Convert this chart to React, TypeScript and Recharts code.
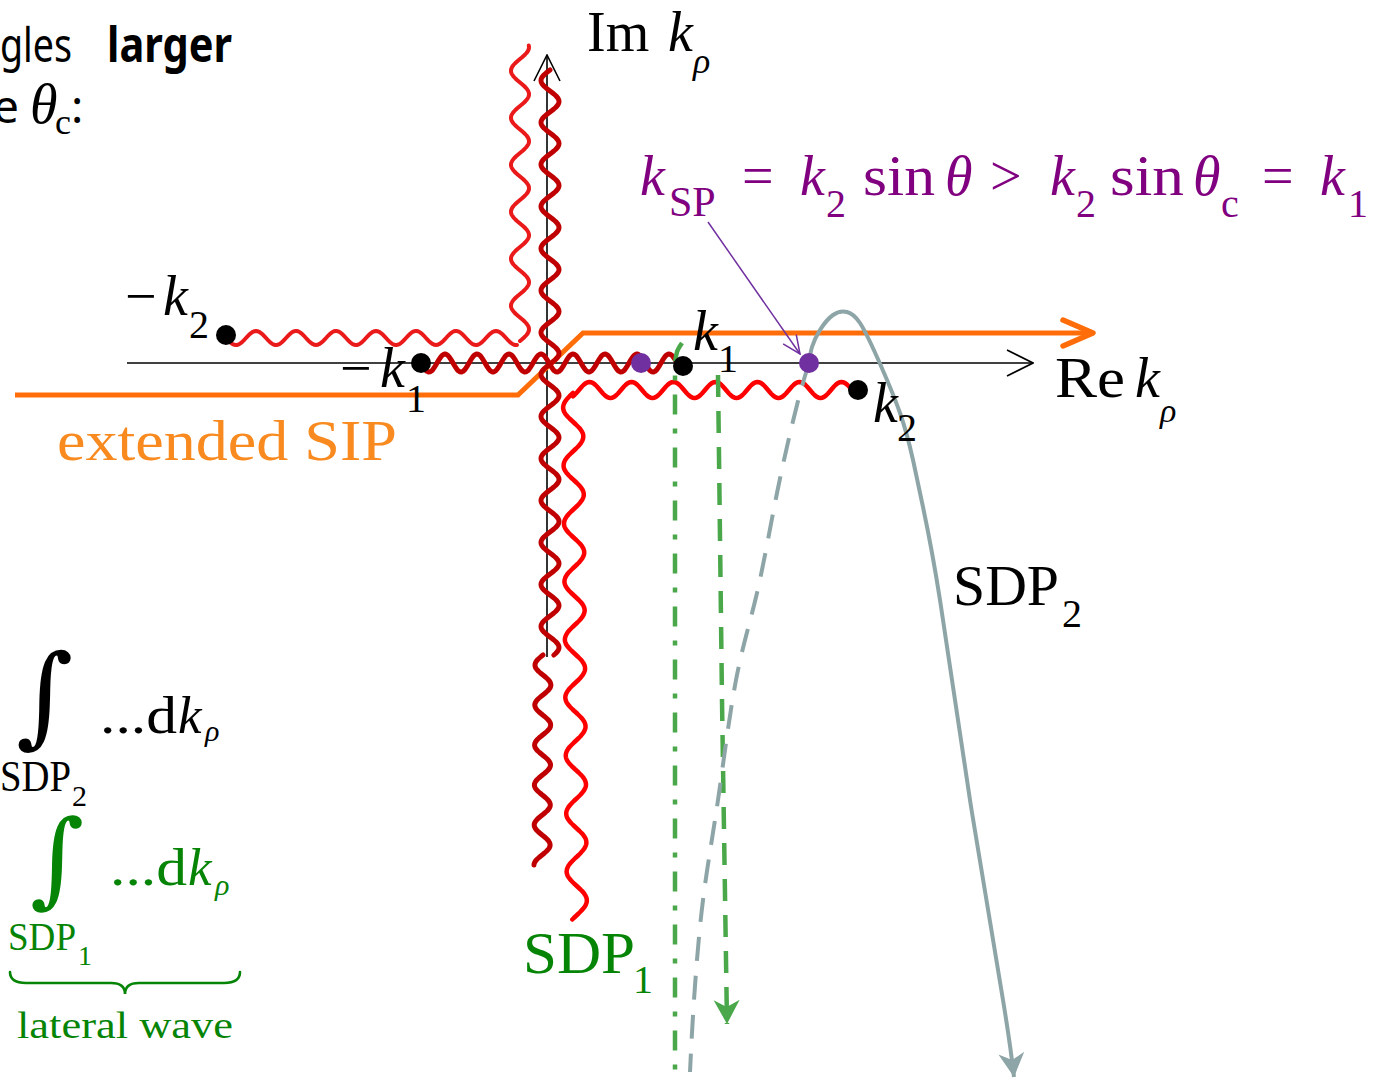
import React from "react";
import {
  ComposedChart,
  Line,
  Scatter,
  XAxis,
  YAxis,
  ReferenceLine,
  ReferenceDot,
} from "recharts";

// complex k_rho plane, 1 unit = 100 px of the picture, origin at the axes crossing
const X_DOMAIN = [-5.47, 8.34];
const Y_DOMAIN = [-7.18, 3.63];

// branch points -k2, -k1, k1, k2
const branchPoints = [
  { x: -3.21, y: 0.28 },
  { x: -1.26, y: 0 },
  { x: 1.36, y: -0.03 },
  { x: 3.11, y: -0.27 },
];
// saddle points on the real axis
const saddlePoints = [
  { x: 0.94, y: 0 },
  { x: 2.62, y: 0 },
];

const reAxis = [
  { x: -4.2, y: 0 },
  { x: 4.86, y: 0 },
];
const imAxis = [
  { x: 0, y: -2.94 },
  { x: 0, y: 3.08 },
];

// extended sommerfeld integration path
const sipPath = [
  { x: -5.32, y: -0.32 },
  { x: -0.29, y: -0.32 },
  { x: 0.36, y: 0.3 },
  { x: 5.46, y: 0.3 },
];

const sdp2Solid = [
  { x: 2.62, y: 0 },
  { x: 2.65, y: 0.16 },
  { x: 2.73, y: 0.33 },
  { x: 2.86, y: 0.48 },
  { x: 3.0, y: 0.51 },
  { x: 3.13, y: 0.4 },
  { x: 3.3, y: 0.06 },
  { x: 3.53, y: -0.5 },
  { x: 3.66, y: -0.97 },
  { x: 3.76, y: -1.44 },
  { x: 3.93, y: -2.37 },
  { x: 4.23, y: -4.37 },
  { x: 4.56, y: -6.37 },
  { x: 4.67, y: -7.14 },
];
const sdp2Dashed = [
  { x: 2.62, y: 0 },
  { x: 2.5, y: -0.42 },
  { x: 2.3, y: -1.3 },
  { x: 2.1, y: -2.3 },
  { x: 1.89, y: -3.17 },
  { x: 1.71, y: -4.37 },
  { x: 1.56, y: -5.37 },
  { x: 1.47, y: -6.37 },
  { x: 1.43, y: -7.09 },
];

const sdp1Left = [
  { x: 1.35, y: 0.2 },
  { x: 1.3, y: 0.11 },
  { x: 1.28, y: -0.03 },
  { x: 1.28, y: -7.18 },
];
const sdp1Right = [
  { x: 1.71, y: -0.12 },
  { x: 1.75, y: -3.37 },
  { x: 1.8, y: -6.61 },
];

const spPointer = [
  { x: 1.61, y: 1.41 },
  { x: 2.53, y: 0.09 },
];

// branch cuts (drawn wavy)
const cutsLight = [
  { x1: -3.21, y1: 0.25, x2: -0.29, y2: 0.25 },
  { x1: -0.27, y1: 0.22, x2: -0.27, y2: 3.18 },
];
const cutsDark = [
  { x1: -1.26, y1: 0, x2: 1.3, y2: 0 },
  { x1: 0.03, y1: 2.93, x2: 0.03, y2: -2.92 },
  { x1: -0.04, y1: -2.92, x2: -0.05, y2: -5.02 },
];
const cutsBright = [
  { x1: 3.05, y1: -0.27, x2: 0.25, y2: -0.27 },
  { x1: 0.26, y1: -0.3, x2: 0.3, y2: -5.57 },
];

const SERIF = "'Liberation Serif', 'Times New Roman', serif";
const SANS = "'Noto Sans', 'Open Sans', sans-serif";
const PURPLE = "#800080";
const GREEN_TXT = "#068406";
const GREEN = "#4aa84a";
const GRAY = "#8ea5a7";
const ORANGE = "#ff6d0a";

function wavePath(x1: number, y1: number, x2: number, y2: number, len: number, amp: number) {
  const dx = x2 - x1
  const dy = y2 - y1
  const L = Math.hypot(dx, dy)
  const ux = dx / L, uy = dy / L
  const nx = -uy, ny = ux
  let d = ""
  for (let t = 0; t <= L; t += 1.5) {
    const s = amp * Math.sin((2 * Math.PI * t) / len)
    const px = x1 + ux * t + nx * s
    const py = y1 + uy * t + ny * s
    d += (t === 0 ? "M" : "L") + px.toFixed(1) + "," + py.toFixed(1)
  }
  return d
}

const wave = (color: string, width: number, len: number, amp: number) => (p: any) => (
  <path
    d={wavePath(+p.x1, +p.y1, +p.x2, +p.y2, len, amp)}
    fill="none"
    stroke={color}
    strokeWidth={width}
    strokeLinecap="round"
    strokeLinejoin="round"
  />
)

type Part = {
  t: string
  dx: number
  dy?: number
  size?: number
  italic?: boolean
  bold?: boolean
  font?: string
  len?: number
}

const textShape = (parts: Part[], color: string) => (p: any) => (
  <text fill={color}>
    {parts.map((q, i) => (
      <tspan
        key={i}
        x={p.cx + q.dx}
        y={p.cy + (q.dy ?? 0)}
        fontSize={q.size ?? 56}
        fontStyle={q.italic ? "italic" : "normal"}
        fontWeight={q.bold ? 700 : 400}
        fontFamily={q.font ?? SERIF}
        textLength={q.len}
        lengthAdjust={q.len ? "spacingAndGlyphs" : undefined}
      >
        {q.t}
      </tspan>
    ))}
  </text>
)

const brace = (color: string) => (p: any) => {
  const x1 = +p.x1, x2 = +p.x2, y = +p.y1
  const m = (x1 + x2) / 2
  const d = `M${x1},${y - 11} Q${x1},${y} ${x1 + 16},${y} L${m - 14},${y} Q${m},${y} ${m},${y + 11} Q${m},${y} ${m + 14},${y} L${x2 - 16},${y} Q${x2},${y} ${x2},${y - 11}`
  return <path d={d} fill="none" stroke={color} strokeWidth={2.6} strokeLinecap="round" />
}

const dot = (color: string) => (p: any) => <circle cx={p.cx} cy={p.cy} r={10} fill={color} />

export default function App() {
  const lineCommon = { dataKey: "y", dot: false, activeDot: false, isAnimationActive: false, legendType: "none" as const }
  return (
    <div style={{ position: "absolute", left: 0, top: 0, width: 1381, height: 1081, background: "#fff", overflow: "hidden" }}>
      <ComposedChart width={1381} height={1081} margin={{ top: 0, right: 0, bottom: 0, left: 0 }}>
        <defs>
          <marker id="arrAxis" markerUnits="userSpaceOnUse" viewBox="0 0 28 30" refX="27" refY="15" markerWidth="28" markerHeight="30" orient="auto">
            <path d="M1,2 L27,15 L1,28" fill="none" stroke="#000" strokeWidth="1.6" />
          </marker>
          <marker id="arrOrange" markerUnits="userSpaceOnUse" viewBox="0 0 38 34" refX="34" refY="17" markerWidth="38" markerHeight="34" orient="auto">
            <path d="M4,4 L34,17 L4,30" fill="none" stroke={ORANGE} strokeWidth="5.5" strokeLinecap="round" strokeLinejoin="round" />
          </marker>
          <marker id="arrGray" markerUnits="userSpaceOnUse" viewBox="0 0 26 28" refX="24" refY="14" markerWidth="26" markerHeight="28" orient="auto">
            <path d="M0,1 L24,14 L0,27 L7,14 Z" fill={GRAY} />
          </marker>
          <marker id="arrGreen" markerUnits="userSpaceOnUse" viewBox="0 0 26 28" refX="24" refY="14" markerWidth="26" markerHeight="28" orient="auto">
            <path d="M0,1 L24,14 L0,27 L7,14 Z" fill={GREEN} />
          </marker>
          <marker id="arrPurple" markerUnits="userSpaceOnUse" viewBox="0 0 20 18" refX="19" refY="9" markerWidth="20" markerHeight="18" orient="auto">
            <path d="M1,1 L19,9 L1,17" fill="none" stroke="#7030a0" strokeWidth="1.5" />
          </marker>
        </defs>
        <XAxis type="number" dataKey="x" domain={X_DOMAIN} allowDataOverflow hide />
        <YAxis type="number" dataKey="y" domain={Y_DOMAIN} allowDataOverflow hide />

        <Line {...lineCommon} data={reAxis} type="linear" stroke="#000" strokeWidth={1.6} markerEnd="url(#arrAxis)" />
        <Line {...lineCommon} data={imAxis} type="linear" stroke="#000" strokeWidth={1.6} markerEnd="url(#arrAxis)" />
        <Line {...lineCommon} data={sipPath} type="linear" stroke={ORANGE} strokeWidth={5} markerEnd="url(#arrOrange)" />

        {cutsLight.map((c, i) => (
          <ReferenceLine key={"l" + i} segment={[{ x: c.x1, y: c.y1 }, { x: c.x2, y: c.y2 }]} ifOverflow="visible"
            shape={wave("#ea1a1a", 4, i === 0 ? 40 : 47, i === 0 ? 7 : 9)} />
        ))}
        {cutsDark.map((c, i) => (
          <ReferenceLine key={"d" + i} segment={[{ x: c.x1, y: c.y1 }, { x: c.x2, y: c.y2 }]} ifOverflow="visible"
            shape={wave("#c00000", 5, i === 0 ? 32 : i === 1 ? 42 : 40, i === 2 ? 8 : 9)} />
        ))}
        {cutsBright.map((c, i) => (
          <ReferenceLine key={"b" + i} segment={[{ x: c.x1, y: c.y1 }, { x: c.x2, y: c.y2 }]} ifOverflow="visible"
            shape={wave("#ff0000", 4.5, i === 0 ? 42 : 58, i === 0 ? 8 : 10)} />
        ))}

        <Line {...lineCommon} data={sdp1Left} type="monotoneY" stroke={GREEN} strokeWidth={4.5} strokeDasharray="20 14 5 14" />
        <Line {...lineCommon} data={sdp1Right} type="linear" stroke={GREEN} strokeWidth={4.5} strokeDasharray="22 14" markerEnd="url(#arrGreen)" />
        <Line {...lineCommon} data={sdp2Dashed} type="natural" stroke={GRAY} strokeWidth={4} strokeDasharray="24 15" />
        <Line {...lineCommon} data={sdp2Solid} type="natural" stroke={GRAY} strokeWidth={4} markerEnd="url(#arrGray)" />
        <Line {...lineCommon} data={spPointer} type="linear" stroke="#7030a0" strokeWidth={1.5} markerEnd="url(#arrPurple)" />

        <Scatter data={branchPoints} isAnimationActive={false} shape={dot("#000")} legendType="none" />
        <Scatter data={saddlePoints} isAnimationActive={false} shape={dot("#7030a0")} legendType="none" />

        <ReferenceLine segment={[{ x: -5.37, y: -6.2 }, { x: -3.07, y: -6.2 }]} ifOverflow="visible" shape={brace(GREEN_TXT)} />

        <ReferenceDot x={-5.47} y={3.01} ifOverflow="visible" shape={textShape([
          { t: "gles", dx: 0, size: 48, font: SANS, len: 72 },
          { t: "larger", dx: 107, size: 48, font: SANS, bold: true, len: 125 },
        ], "#000")} />
        <ReferenceDot x={-5.47} y={2.4} ifOverflow="visible" shape={textShape([
          { t: "e", dx: -7, size: 46, font: SANS },
          { t: "θ", dx: 30, size: 56, italic: true },
          { t: "c", dx: 55, dy: 11, size: 36 },
          { t: ":", dx: 71, size: 46, font: SANS },
        ], "#000")} />
        <ReferenceDot x={0.4} y={3.12} ifOverflow="visible" shape={textShape([
          { t: "Im", dx: 0 },
          { t: "k", dx: 81, italic: true },
          { t: "ρ", dx: 106, dy: 22, size: 36, italic: true },
        ], "#000")} />
        <ReferenceDot x={0.93} y={1.68} ifOverflow="visible" shape={textShape([
          { t: "k", dx: 0, italic: true },
          { t: "SP", dx: 29, dy: 21, size: 42 },
          { t: "=", dx: 102 },
          { t: "k", dx: 160, italic: true },
          { t: "2", dx: 186, dy: 22, size: 40 },
          { t: "sin", dx: 223, len: 72 },
          { t: "θ", dx: 305, italic: true },
          { t: ">", dx: 350 },
          { t: "k", dx: 410, italic: true },
          { t: "2", dx: 436, dy: 22, size: 40 },
          { t: "sin", dx: 470, len: 74 },
          { t: "θ", dx: 553, italic: true },
          { t: "c", dx: 581, dy: 22, size: 40 },
          { t: "=", dx: 622 },
          { t: "k", dx: 680, italic: true },
          { t: "1", dx: 708, dy: 22, size: 40 },
        ], PURPLE)} />
        <ReferenceDot x={-4.22} y={0.48} ifOverflow="visible" shape={textShape([
          { t: "−", dx: 0 },
          { t: "k", dx: 38, italic: true },
          { t: "2", dx: 64, dy: 23, size: 40 },
        ], "#000")} />
        <ReferenceDot x={-2.07} y={-0.24} ifOverflow="visible" shape={textShape([
          { t: "−", dx: 0 },
          { t: "k", dx: 40, italic: true },
          { t: "1", dx: 66, dy: 25, size: 40 },
        ], "#000")} />
        <ReferenceDot x={1.46} y={0.13} ifOverflow="visible" shape={textShape([
          { t: "k", dx: 0, italic: true },
          { t: "1", dx: 25, dy: 22, size: 40 },
        ], "#000")} />
        <ReferenceDot x={3.26} y={-0.59} ifOverflow="visible" shape={textShape([
          { t: "k", dx: 0, italic: true },
          { t: "2", dx: 24, dy: 19, size: 40 },
        ], "#000")} />
        <ReferenceDot x={5.08} y={-0.34} ifOverflow="visible" shape={textShape([
          { t: "Re", dx: 0, len: 70 },
          { t: "k", dx: 80, italic: true },
          { t: "ρ", dx: 105, dy: 25, size: 34, italic: true },
        ], "#000")} />
        <ReferenceDot x={-4.9} y={-0.97} ifOverflow="visible" shape={textShape([
          { t: "extended SIP", dx: 0, len: 340 },
        ], "#f98a1f")} />
        <ReferenceDot x={4.06} y={-2.42} ifOverflow="visible" shape={textShape([
          { t: "SDP", dx: 0, size: 58, len: 106 },
          { t: "2", dx: 109, dy: 22, size: 40 },
        ], "#000")} />
        <ReferenceDot x={-0.24} y={-6.1} ifOverflow="visible" shape={textShape([
          { t: "SDP", dx: 0, size: 60, len: 112 },
          { t: "1", dx: 110, dy: 20, size: 40 },
        ], GREEN_TXT)} />
        <ReferenceDot x={-4.47} y={-3.7} ifOverflow="visible" shape={textShape([
          { t: "∫", dx: -84, dy: 0, size: 110, font: "'DejaVu Serif', serif" },
          { t: "...d", dx: 0, size: 53, len: 77 },
          { t: "k", dx: 78, size: 53, italic: true },
          { t: "ρ", dx: 105, dy: 8, size: 30, italic: true },
          { t: "SDP", dx: -100, dy: 58, size: 44, len: 71 },
          { t: "2", dx: -28, dy: 73, size: 30 },
        ], "#000")} />
        <ReferenceDot x={-4.37} y={-5.22} ifOverflow="visible" shape={textShape([
          { t: "∫", dx: -80, dy: 9, size: 104, font: "'DejaVu Serif', serif" },
          { t: "...d", dx: 0, size: 53, len: 77 },
          { t: "k", dx: 78, size: 53, italic: true },
          { t: "ρ", dx: 105, dy: 10, size: 30, italic: true },
          { t: "SDP", dx: -102, dy: 65, size: 40, len: 68 },
          { t: "1", dx: -32, dy: 80, size: 28 },
        ], GREEN_TXT)} />
        <ReferenceDot x={-5.3} y={-6.75} ifOverflow="visible" shape={textShape([
          { t: "lateral wave", dx: 0, size: 38, len: 216 },
        ], GREEN_TXT)} />
      </ComposedChart>
    </div>
  );
}
